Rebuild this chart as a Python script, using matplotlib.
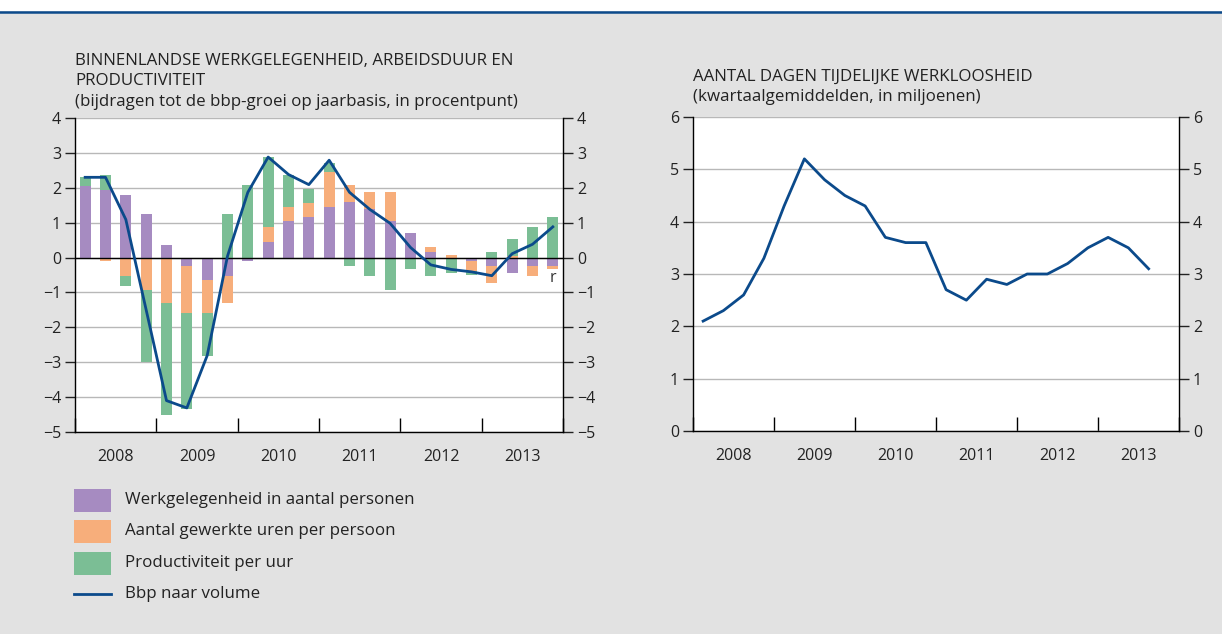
import matplotlib.pyplot as plt
import matplotlib.patches as mpatches
import matplotlib.lines as mlines
import numpy as np

plt.rcParams['font.family'] = ['Open Sans', 'DejaVu Sans']

# quarterly data 2008Q1 - 2013Q4
years = ['2008', '2009', '2010', '2011', '2012', '2013']

werkgelegenheid = [2.05, 1.95, 1.78, 1.26, 0.37, -0.23, -0.63, -0.52, -0.11, 0.46, 1.06, 1.17,
                   1.46, 1.58, 1.38, 1.06, 0.69, 0.17, 0.0, -0.1, -0.23, -0.43, -0.23, -0.23]
arbeidsduur = [0.0, -0.1, -0.52, -0.92, -1.31, -1.37, -0.97, -0.79, 0.0, 0.41, 0.4, 0.4,
               0.98, 0.51, 0.5, 0.83, 0.0, 0.12, 0.08, -0.28, -0.49, 0.05, -0.29, -0.09]
productiviteit = [0.25, 0.43, -0.3, -2.08, -3.21, -2.73, -1.21, 1.26, 2.09, 2.01, 0.92, 0.4,
                  0.27, -0.23, -0.52, -0.92, -0.32, -0.52, -0.43, -0.12, 0.17, 0.49, 0.89, 1.17]
bbp = [2.3, 2.3, 1.09, -1.5, -4.1, -4.31, -2.81, 0.04, 1.87, 2.88, 2.38, 2.09,
       2.79, 1.87, 1.38, 0.98, 0.29, -0.21, -0.34, -0.41, -0.52, 0.11, 0.38, 0.88]

# right chart: days of temporary unemployment (millions), 2008Q1 - 2013Q3
werkloosheid = [2.1, 2.3, 2.6, 3.3, 4.3, 5.2, 4.8, 4.5, 4.3, 3.7, 3.6, 3.6,
                2.7, 2.5, 2.9, 2.8, 3.0, 3.0, 3.2, 3.5, 3.7, 3.5, 3.1]

series_labels = ['Werkgelegenheid in aantal personen', 'Aantal gewerkte uren per persoon',
                 'Productiviteit per uur', 'Bbp naar volume']

purple = '#a68bc1'
orange = '#f7ae7b'
green = '#7bbe95'
blue = '#0b4a8b'
bg = '#e2e2e2'
gridc = '#b8b8b8'
txt = '#222222'
fs = 12.2
tfs = 11.5

W, H = 1222, 634
fig = plt.figure(figsize=(W / 100, H / 100), dpi=100)
fig.patch.set_facecolor(bg)

# white strip at the top with blue rule
fig.add_artist(mpatches.Rectangle((0, 1 - 11 / H), 1, 11 / H, transform=fig.transFigure,
                                  facecolor='white', edgecolor='none'))
fig.add_artist(mlines.Line2D([0, 1], [1 - 12 / H, 1 - 12 / H], transform=fig.transFigure,
                             color=blue, lw=1.8))


def px_axes(x0, y0, x1, y1):
    return fig.add_axes([x0 / W, 1 - y1 / H, (x1 - x0) / W, (y1 - y0) / H])


def px_text(x, y, s, **kw):
    fig.text(x / W, 1 - y / H, s, fontsize=fs, color=txt, va='baseline', **kw)


def style_axes(ax, ymin, ymax):
    ax.set_facecolor('white')
    ax.set_xlim(0, 24)
    ax.set_ylim(ymin, ymax)
    for s in ['left', 'right', 'bottom']:
        ax.spines[s].set_color('black')
        ax.spines[s].set_linewidth(1.0)
    ax.spines['top'].set_visible(False)
    ax.set_yticks(range(ymin, ymax + 1))
    ax.set_yticklabels([str(v).replace('-', '\u2212') for v in range(ymin, ymax + 1)])
    ax.yaxis.grid(True, color=gridc, lw=1.0)
    ax.set_axisbelow(True)
    ax.tick_params(axis='y', which='both', direction='out', length=7, width=1,
                   left=True, right=True, labelleft=True, labelright=True,
                   labelsize=tfs, colors=txt, pad=3)
    ax.set_xticks(range(0, 25, 4))
    ax.set_xticklabels([])
    ax.tick_params(axis='x', which='major', direction='in', length=10, width=1)
    ax.set_xticks(np.arange(2, 24, 4), minor=True)
    ax.set_xticklabels(years, minor=True)
    ax.tick_params(axis='x', which='minor', length=0, labelsize=tfs, pad=12, colors=txt)


# ---- left chart ----
ax1 = px_axes(75, 118, 563, 432)
style_axes(ax1, -5, 4)

x = np.arange(24) + 0.5
pos_base = np.zeros(24)
neg_base = np.zeros(24)
for vals, col in [(werkgelegenheid, purple), (arbeidsduur, orange), (productiviteit, green)]:
    v = np.array(vals)
    bottom = np.where(v >= 0, pos_base, neg_base)
    ax1.bar(x, v, width=0.55, bottom=bottom, color=col, edgecolor='none', zorder=2)
    pos_base = pos_base + np.clip(v, 0, None)
    neg_base = neg_base + np.clip(v, None, 0)
ax1.axhline(0, color='black', lw=1.0, zorder=3)
ax1.plot(x, bbp, color=blue, lw=2.0, zorder=4)
ax1.text(23.5, -0.6, 'r', ha='center', va='center', fontsize=tfs, color='#333333')

px_text(75, 65, 'BINNENLANDSE WERKGELEGENHEID, ARBEIDSDUUR EN')
px_text(75, 85, 'PRODUCTIVITEIT')
px_text(75, 106, '(bijdragen tot de bbp-groei op jaarbasis, in procentpunt)')

# ---- right chart ----
ax2 = px_axes(693, 117, 1179, 431)
style_axes(ax2, 0, 6)
ax2.plot(np.arange(len(werkloosheid)) + 0.5, werkloosheid, color=blue, lw=2.0, zorder=4)

px_text(693, 81, 'AANTAL DAGEN TIJDELIJKE WERKLOOSHEID')
px_text(693, 101, '(kwartaalgemiddelden, in miljoenen)')

# ---- legend ----
row_y = [500, 531, 563, 594]
for i, (lab, col) in enumerate(zip(series_labels, [purple, orange, green, None])):
    yc = row_y[i]
    if col is not None:
        fig.add_artist(mpatches.Rectangle((74 / W, 1 - (yc + 11.5) / H), 37 / W, 23 / H,
                                          transform=fig.transFigure, facecolor=col,
                                          edgecolor='none'))
    else:
        fig.add_artist(mlines.Line2D([74 / W, 111 / W], [1 - yc / H, 1 - yc / H],
                                     transform=fig.transFigure, color=blue, lw=2.0))
    fig.text(125 / W, 1 - yc / H, lab, fontsize=fs, color=txt, va='center')

fig.savefig('out.png', dpi=100, facecolor=bg)
